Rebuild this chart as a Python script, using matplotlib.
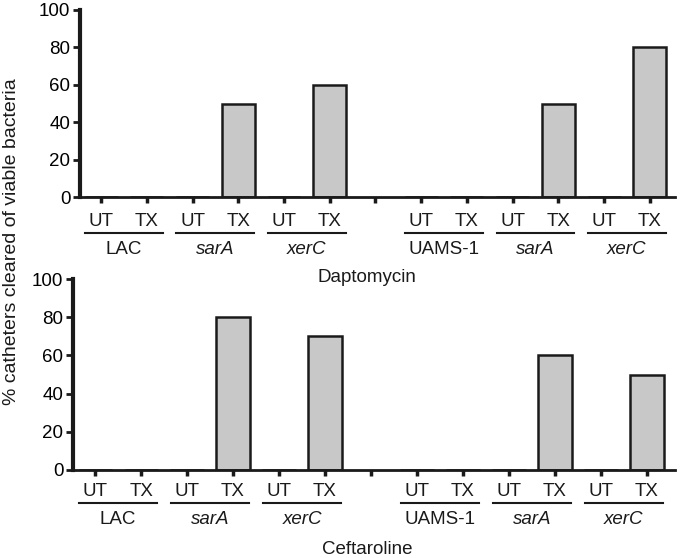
import matplotlib.pyplot as plt
from matplotlib.transforms import blended_transform_factory

plt.rcParams['font.family'] = ['Liberation Sans', 'DejaVu Sans']

# positions 0..12, position 6 is the empty gap between the two strains
positions = [0, 1, 2, 3, 4, 5, 7, 8, 9, 10, 11, 12]
conditions = ['UT', 'TX'] * 6
groups = ['LAC', 'sarA', 'xerC', 'UAMS-1', 'sarA', 'xerC']
group_italic = [False, True, True, False, True, True]

dapto = [0, 0, 0, 50, 0, 60, 0, 0, 0, 50, 0, 80]
cefta = [0, 0, 0, 80, 0, 70, 0, 0, 0, 60, 0, 50]

W, H = 680, 558
fig = plt.figure(figsize=(6.8, 5.58), dpi=100)

# axes boxes in pixels: left, right, y of 100, y of 0
panels = [
    (80, 675, 10, 197, -0.46, 12.55, dapto, 'Daptomycin', 221, 233, 249.5, 278),
    (73, 675, 279, 470, -0.48, 12.61, cefta, 'Ceftaroline', 491, 503, 519.5, 549),
]

fs = 13.5
ink = '#1a1a1a'

for (x0, x1, ytop, ybot, xl, xr, vals, title, y_cond, y_line, y_grp, y_title) in panels:
    ax = fig.add_axes([x0 / W, 1 - ybot / H, (x1 - x0) / W, (ybot - ytop) / H])
    ax.bar(positions, vals, width=0.72, color='#c8c8c8', edgecolor=ink, linewidth=1.8, zorder=2)
    ax.set_xlim(xl, xr)
    ax.set_ylim(0, 100)
    ax.set_yticks([0, 20, 40, 60, 80, 100])
    ax.set_xticks(range(13))
    ax.set_xticklabels([])
    for s in ['top', 'right']:
        ax.spines[s].set_visible(False)
    ax.spines['left'].set_linewidth(3)
    ax.spines['bottom'].set_linewidth(2)
    ax.spines['left'].set_color(ink)
    ax.spines['bottom'].set_color(ink)
    ax.tick_params(axis='y', direction='out', length=5, width=2, labelsize=fs, pad=2, color=ink)
    ax.tick_params(axis='x', direction='out', length=4, width=2.5, color=ink)

    tr = blended_transform_factory(ax.transData, fig.transFigure)
    for p, c in zip(positions, conditions):
        fig.text(p, 1 - y_cond / H, c, transform=tr, ha='center', va='center', fontsize=fs, color=ink)
    for i, (g, it) in enumerate(zip(groups, group_italic)):
        center = positions[2 * i] + 0.5
        fig.add_artist(plt.Line2D([center - 0.85, center + 0.85], [1 - y_line / H] * 2,
                                  transform=tr, color=ink, linewidth=1.5))
        fig.text(center, 1 - y_grp / H, g, transform=tr, ha='center', va='center',
                 fontsize=fs, color=ink, style='italic' if it else 'normal')
    fig.text(367 / W, 1 - y_title / H, title, ha='center', va='center', fontsize=fs, color=ink)

fig.text(12 / W, 1 - 242 / H, '% catheters cleared of viable bacteria', rotation=90,
         ha='center', va='center', fontsize=14, color=ink)

fig.savefig('out.png', dpi=100)
